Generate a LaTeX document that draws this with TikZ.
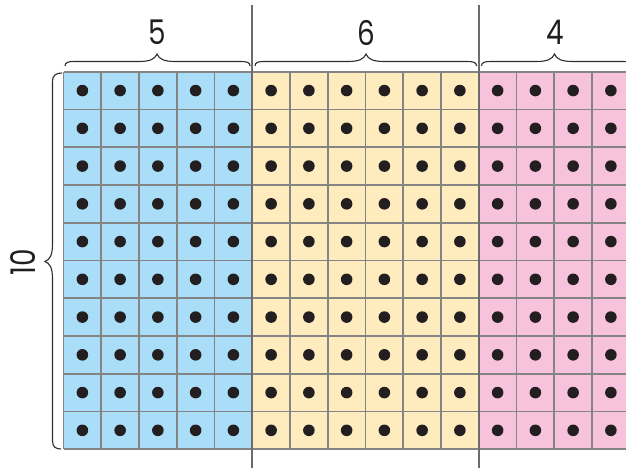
\documentclass[tikz,border=0pt]{standalone}
\usepackage{graphicx}
\usepackage{fontspec}
\setmainfont{Poppins}
\definecolor{cblue}{RGB}{170,222,248}
\definecolor{cyellow}{RGB}{254,236,191}
\definecolor{cpink}{RGB}{247,194,219}
\definecolor{gridgray}{RGB}{132,132,132}
\definecolor{divgray}{RGB}{108,108,108}
\definecolor{dotblack}{RGB}{35,31,32}
\definecolor{bracegray}{RGB}{45,45,45}
\begin{document}
\begin{tikzpicture}[x=1pt,y=-1pt,
  gridline/.style={draw=gridgray,line width=1.8pt},
  divline/.style={draw=divgray,line width=2.4pt},
  bracepath/.style={draw=bracegray,line width=1.1pt},
  dot/.style={fill=dotblack},
  lab/.style={font=\fontsize{34}{34}\selectfont,inner sep=0pt,text=black!88}]
\useasboundingbox (0,0) rectangle (626,468);
\clip (0,0) rectangle (626,468);
\def\s{37.75}
\def\xo{63.5}
\def\yo{71.7}
% fills
\fill[cblue] (\xo,\yo) rectangle (\xo+5*\s,\yo+10*\s);
\fill[cyellow] (\xo+5*\s,\yo) rectangle (\xo+11*\s,\yo+10*\s);
\fill[cpink] (\xo+11*\s,\yo) rectangle (\xo+15*\s,\yo+10*\s);
% grid
\foreach \i in {0,...,15} \draw[gridline] (\xo+\i*\s,\yo) -- (\xo+\i*\s,\yo+10*\s);
\foreach \j in {0,...,10} \draw[gridline] (\xo,\yo+\j*\s) -- (\xo+15*\s,\yo+\j*\s);
% dots
\foreach \i in {0,...,14} \foreach \j in {0,...,9}
  \fill[dot] (\xo+\i*\s+0.5*\s,\yo+\j*\s+0.5*\s) circle (5.8);
% dividers
\draw[divline] (\xo+5*\s,5) -- (\xo+5*\s,470);
\draw[divline] (\xo+11*\s,5) -- (\xo+11*\s,470);
% top braces
\foreach \xa/\xm/\xb in {65/157/250, 255/366/476.5, 481.5/554.5/632}
  \draw[bracepath] (\xa,66) .. controls (\xa,62.5) and (\xa+3,61.5) .. (\xa+9,61.5)
    -- (\xm-18,61.5) .. controls (\xm-7,61.5) and (\xm-2,59) .. (\xm,54)
    .. controls (\xm+2,59) and (\xm+7,61.5) .. (\xm+18,61.5)
    -- (\xb-9,61.5) .. controls (\xb-3,61.5) and (\xb,62.5) .. (\xb,66);
% left brace
\draw[bracepath] (62,73) .. controls (56,73) and (52.5,75) .. (52.5,82)
  -- (52.5,244) .. controls (52.5,255) and (50,259.5) .. (45,261.5)
  .. controls (50,263.5) and (52.5,268) .. (52.5,279)
  -- (52.5,441) .. controls (52.5,447) and (56,449) .. (61,449);
% labels
\node[lab] (l5) at (157,32.5) {\scalebox{0.82}[1]{5}};
\node[lab] (l6) at (366,32.5) {\scalebox{0.82}[1]{6}};
\node[lab] (l4) at (555,32.5) {\scalebox{0.82}[1]{4}};
\node[lab,rotate=90] (l10) at (23.5,262) {\scalebox{0.82}[1]{10}};
\end{tikzpicture}
\end{document}
